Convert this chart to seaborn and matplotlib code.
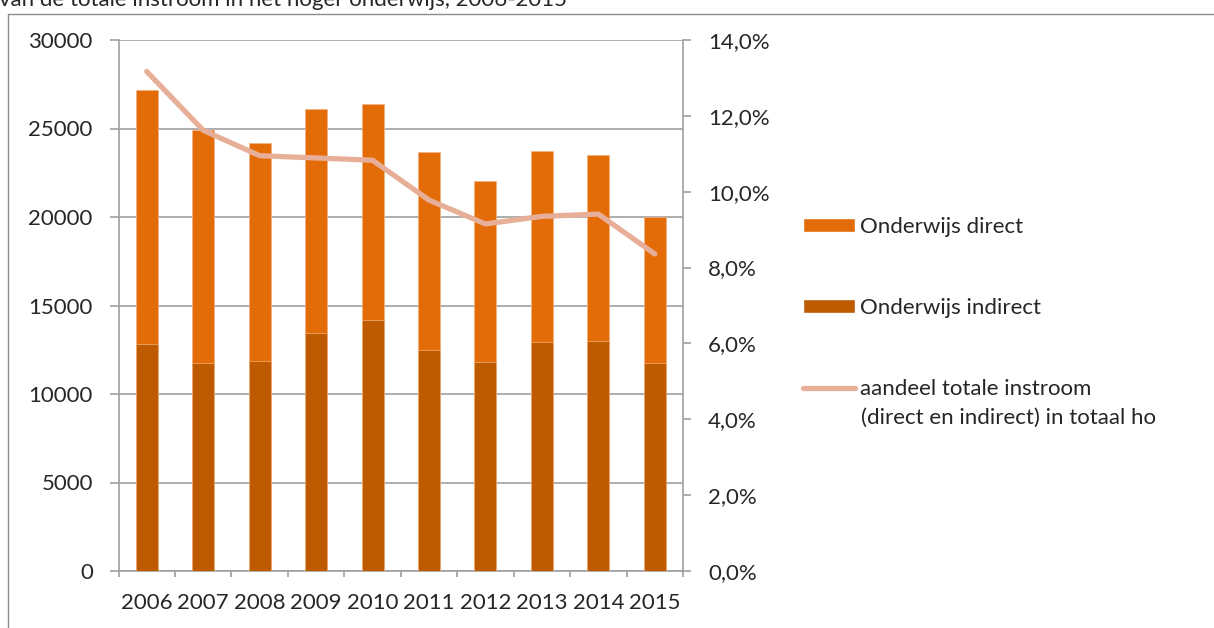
import numpy as np
import pandas as pd
import matplotlib
matplotlib.use("Agg")
import matplotlib.pyplot as plt
from matplotlib.patches import Patch
from matplotlib.lines import Line2D
from matplotlib.ticker import FuncFormatter, MultipleLocator, FixedLocator
import seaborn as sns

# data
jaren = ["2006", "2007", "2008", "2009", "2010", "2011", "2012", "2013", "2014", "2015"]
totaal = [27170, 24940, 24170, 26090, 26410, 23690, 22030, 23740, 23500, 19980]
indirect = [12800, 11750, 11880, 13460, 14190, 12480, 11800, 12950, 13010, 11770]
aandeel = [13.17, 11.62, 10.95, 10.89, 10.83, 9.78, 9.15, 9.35, 9.41, 8.36]

kleur_direct = "#E36C09"
kleur_indirect = "#BE5B00"
kleur_lijn = "#E8AF98"
grijs = "#A0A0A0"

sns.set_style("white")
plt.rcParams["font.family"] = ["Lato", "DejaVu Sans"]

df = pd.DataFrame({"jaar": jaren, "totaal": totaal, "indirect": indirect, "aandeel": aandeel})

W, H = 1214, 628
fig = plt.figure(figsize=(W / 100, H / 100), dpi=100)
ax = fig.add_axes([118.5 / W, 1 - 571 / H, (683 - 118.5) / W, (571 - 40) / H])

# gestapelde staven: totaal (direct bovenop) en indirect eronder
sns.barplot(data=df, x="jaar", y="totaal", color=kleur_direct, width=0.39,
            saturation=1, edgecolor="#F2B27E", linewidth=0.5, ax=ax, zorder=2)
sns.barplot(data=df, x="jaar", y="indirect", color=kleur_indirect, width=0.39,
            saturation=1, edgecolor="#F2B27E", linewidth=0.5, ax=ax, zorder=3)

ax.set_xlim(-0.5, 9.5)
ax.set_ylim(0, 30000)
ax.yaxis.set_major_locator(MultipleLocator(5000))
ax.yaxis.grid(True, color=grijs, linewidth=1.2, zorder=0)
ax.set_axisbelow(True)
ax.set_xlabel("")
ax.set_ylabel("")

for s in ["left", "bottom"]:
    ax.spines[s].set_color(grijs)
    ax.spines[s].set_linewidth(1.2)
ax.spines["top"].set_visible(False)
ax.spines["right"].set_visible(False)

ax.tick_params(axis="y", direction="out", length=6.5, width=1.2, color=grijs,
               pad=12, labelsize=16, left=True)
ax.tick_params(axis="x", which="major", length=0, pad=16, labelsize=16)
ax.xaxis.set_minor_locator(FixedLocator(np.arange(-0.5, 10, 1)))
ax.tick_params(axis="x", which="minor", direction="out", length=4.5, width=1.2,
               color=grijs, bottom=True)

# lijn op tweede as
ax2 = ax.twinx()
sns.lineplot(x=np.arange(len(jaren)), y=df["aandeel"], color=kleur_lijn,
             linewidth=3.8, ax=ax2, solid_capstyle="round")
ax2.set_ylim(0, 14)
ax2.yaxis.set_major_locator(MultipleLocator(2))
ax2.yaxis.set_major_formatter(FuncFormatter(lambda v, p: f"{v:.1f}%".replace(".", ",")))
ax2.set_ylabel("")
ax2.grid(False)
for s in ["left", "top", "bottom"]:
    ax2.spines[s].set_visible(False)
ax2.spines["right"].set_color(grijs)
ax2.spines["right"].set_linewidth(1.2)
ax2.tick_params(axis="y", direction="out", length=6, width=1.2, color=grijs,
                pad=12, labelsize=16, right=True)

# legenda
handles = [Patch(facecolor=kleur_direct, label="Onderwijs direct"),
           Patch(facecolor=kleur_indirect, label="Onderwijs indirect"),
           Line2D([0], [0], color=kleur_lijn, linewidth=3.8, solid_capstyle="round",
                  label="aandeel totale instroom")]
fig.legend(handles=handles, loc="upper left", bbox_to_anchor=(803 / W, 1 - 217 / H),
           frameon=False, fontsize=16, handlelength=2.35, handleheight=0.62,
           handletextpad=0.22, labelspacing=2.75, borderpad=0, borderaxespad=0)
fig.text(861 / W, 1 - 418 / H, "(direct en indirect) in totaal ho", fontsize=16,
         va="center", ha="left")

# afgesneden titel en kader
fig.text(-1 / W, 1 - 6 / H, "van de totale instroom in het hoger onderwijs, 2006-2015",
         fontsize=16, va="baseline", ha="left")
fig.add_artist(Line2D([8 / W, 1], [1 - 13.5 / H, 1 - 13.5 / H], color="#8C8C8C", linewidth=1))
fig.add_artist(Line2D([8 / W, 8 / W], [0, 1 - 13.5 / H], color="#8C8C8C", linewidth=1))

fig.savefig("out.png", dpi=100)
